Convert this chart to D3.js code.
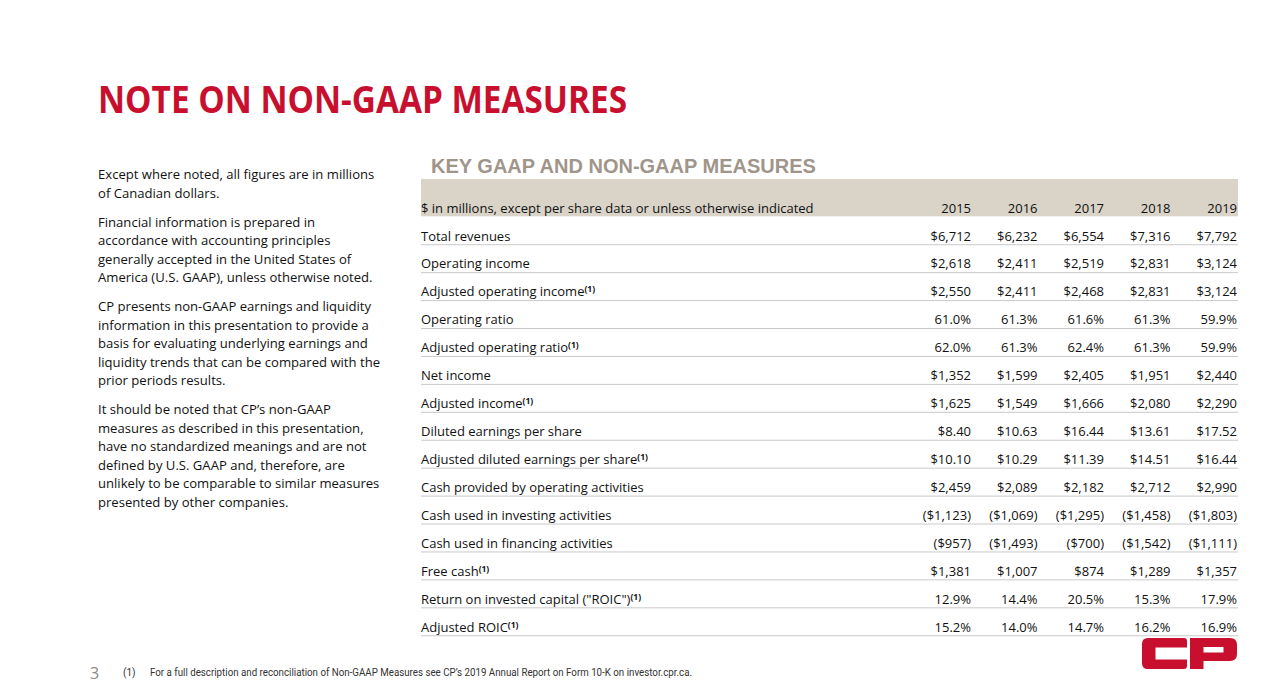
<!DOCTYPE html>
<html>
<head>
<meta charset="utf-8">
<script src="https://cdn.jsdelivr.net/npm/d3@7"></script>
<style>
html,body{margin:0;padding:0;background:#fff;}
svg{display:block;}
</style>
</head>
<body>
<svg id="chart" width="1280" height="698"></svg>
<script>
// ---- data ----
const years = [2015, 2016, 2017, 2018, 2019];
const measures = [
  "Total revenues",
  "Operating income",
  "Adjusted operating income",
  "Operating ratio",
  "Adjusted operating ratio",
  "Net income",
  "Adjusted income",
  "Diluted earnings per share",
  "Adjusted diluted earnings per share",
  "Cash provided by operating activities",
  "Cash used in investing activities",
  "Cash used in financing activities",
  "Free cash",
  "Return on invested capital (\"ROIC\")",
  "Adjusted ROIC"
];
const nonGaap = [false,false,true,false,true,false,true,false,true,false,false,false,true,true,true];
const kinds = ["usd","usd","usd","pct","pct","usd","usd","eps","eps","usd","usd","usd","usd","pct","pct"];
const values = [
  [6712, 6232, 6554, 7316, 7792],
  [2618, 2411, 2519, 2831, 3124],
  [2550, 2411, 2468, 2831, 3124],
  [61.0, 61.3, 61.6, 61.3, 59.9],
  [62.0, 61.3, 62.4, 61.3, 59.9],
  [1352, 1599, 2405, 1951, 2440],
  [1625, 1549, 1666, 2080, 2290],
  [8.40, 10.63, 16.44, 13.61, 17.52],
  [10.10, 10.29, 11.39, 14.51, 16.44],
  [2459, 2089, 2182, 2712, 2990],
  [-1123, -1069, -1295, -1458, -1803],
  [-957, -1493, -700, -1542, -1111],
  [1381, 1007, 874, 1289, 1357],
  [12.9, 14.4, 20.5, 15.3, 17.9],
  [15.2, 14.0, 14.7, 16.2, 16.9]
];
const headerLabel = "$ in millions, except per share data or unless otherwise indicated";
const pageTitle = "NOTE ON NON-GAAP MEASURES";
const tableTitle = "KEY GAAP AND NON-GAAP MEASURES";
const paragraphs = [
  ["Except where noted, all figures are in millions", "of Canadian dollars."],
  ["Financial information is prepared in", "accordance with accounting principles", "generally accepted in the United States of", "America (U.S. GAAP), unless otherwise noted."],
  ["CP presents non-GAAP earnings and liquidity", "information in this presentation to provide a", "basis for evaluating underlying earnings and", "liquidity trends that can be compared with the", "prior periods results."],
  ["It should be noted that CP\u2019s non-GAAP", "measures as described in this presentation,", "have no standardized meanings and are not", "defined by U.S. GAAP and, therefore, are", "unlikely to be comparable to similar measures", "presented by other companies."]
];
const footnote = "For a full description and reconciliation of Non-GAAP Measures see CP\u2019s 2019 Annual Report on Form 10-K on investor.cpr.ca.";
const pageNumber = "3";

// ---- rendering ----
const svg = d3.select("#chart");
const RED = "#c8102e";
const FONT = "'Open Sans', 'Noto Sans', sans-serif";

const fmtInt = d3.format(",");
const fmtEps = d3.format(".2f");
const fmtPct = d3.format(".1f");
function fmt(v, k) {
  if (k === "pct") return fmtPct(v) + "%";
  const s = k === "eps" ? fmtEps(Math.abs(v)) : fmtInt(Math.abs(v));
  return v < 0 ? "($" + s + ")" : "$" + s;
}

// page title
svg.append("text")
  .attr("x", 98).attr("y", 113)
  .attr("font-family", FONT).attr("font-weight", 700)
  .attr("font-size", 38).attr("fill", RED)
  .attr("textLength", 529).attr("lengthAdjust", "spacingAndGlyphs")
  .text(pageTitle);

// left paragraphs
const lineH = 18.5, paraGap = 10.5;
let yy = 179;
const left = svg.append("g").attr("font-family", FONT).attr("font-size", 13.1).attr("fill", "#111");
paragraphs.forEach(p => {
  p.forEach(line => {
    left.append("text").attr("x", 98).attr("y", yy).text(line);
    yy += lineH;
  });
  yy += paraGap;
});

// table title
svg.append("text")
  .attr("x", 431).attr("y", 172.5)
  .attr("font-family", "'Liberation Sans', Arial, sans-serif").attr("font-weight", 700)
  .attr("font-size", 20).attr("fill", "#a0958a")
  .text(tableTitle);

const tableLeft = 421, tableRight = 1238;
const x = d3.scalePoint().domain(years).range([971, 1237]);
const rowTop = 216.3, rowH = 27.93;
const y = d3.scaleBand().domain(measures).range([rowTop, rowTop + rowH * measures.length]);

// header band
svg.append("rect")
  .attr("x", tableLeft).attr("y", 179)
  .attr("width", tableRight - tableLeft).attr("height", rowTop - 179)
  .attr("fill", "#d9d3c8");

const tbl = svg.append("g").attr("font-family", FONT).attr("font-size", 13).attr("fill", "#111");
tbl.append("text").attr("x", tableLeft).attr("y", rowTop - 3.3).text(headerLabel);
tbl.selectAll("text.yr").data(years).join("text").attr("class", "yr")
  .attr("x", d => x(d)).attr("y", rowTop - 3.3).attr("text-anchor", "end").text(d => d);

// rows
const rows = tbl.selectAll("g.row").data(measures).join("g").attr("class", "row")
  .attr("transform", d => `translate(0,${y(d)})`);
rows.append("line")
  .attr("x1", tableLeft).attr("x2", tableRight)
  .attr("y1", y.bandwidth() + 0.5).attr("y2", y.bandwidth() + 0.5)
  .attr("stroke", "#c9c9c9").attr("stroke-width", 1);
rows.each(function(m, i) {
  const g = d3.select(this);
  const t = g.append("text").attr("x", tableLeft).attr("y", y.bandwidth() - 3.7);
  t.append("tspan").text(m);
  if (nonGaap[i]) {
    t.append("tspan").attr("font-size", 8.5).attr("font-weight", 700).attr("dy", -4).text("(1)");
  }
  g.selectAll("text.v").data(values[i]).join("text").attr("class", "v")
    .attr("x", (d, j) => x(years[j])).attr("y", y.bandwidth() - 3.7)
    .attr("text-anchor", "end").text(d => fmt(d, kinds[i]));
});

// footer
svg.append("text").attr("x", 90).attr("y", 679)
  .attr("font-family", FONT).attr("font-size", 16).attr("fill", "#8a8a8a").text(pageNumber);
svg.append("text").attr("x", 123).attr("y", 676)
  .attr("font-family", "'Liberation Sans Narrow', 'Roboto', sans-serif").attr("font-size", 10).attr("fill", "#333").text("(1)");
svg.append("text").attr("x", 150).attr("y", 676)
  .attr("font-family", "'Liberation Sans Narrow', 'Roboto', sans-serif").attr("font-size", 10).attr("fill", "#333")
  .attr("textLength", 542).attr("lengthAdjust", "spacingAndGlyphs")
  .text(footnote);

// CP logo
const logo = svg.append("g").attr("fill", RED);
logo.append("path").attr("d",
  "M1148,638 H1184 Q1187,638 1187,641 V647.5 H1155.5 V659.5 H1187 V666 Q1187,669 1184,669 H1148 Q1142,669 1142,663 V644 Q1142,638 1148,638 Z");
logo.append("path").attr("d",
  "M1190,638 H1230 Q1237,638 1237,645 V654 Q1237,661 1230,661 H1203.5 V669 H1190 Z M1203.5,647 V652.5 H1223.5 V647 Z")
  .attr("fill-rule", "evenodd");
</script>
</body>
</html>
